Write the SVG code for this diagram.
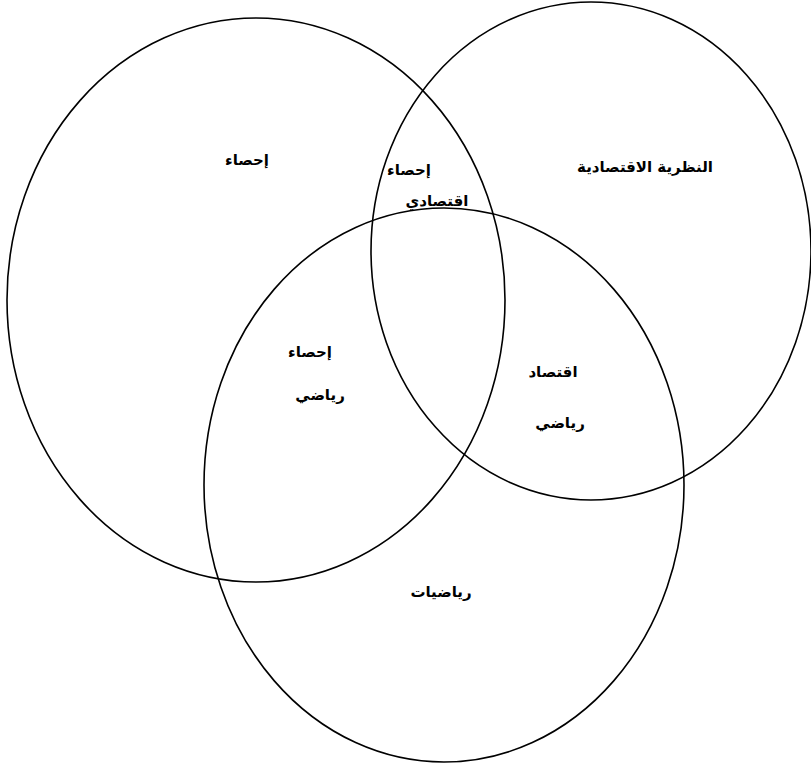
<svg xmlns="http://www.w3.org/2000/svg" width="811" height="767" viewBox="0 0 811 767">
<style>
.c{fill:none;stroke:#000;stroke-width:1.6}
.t{font-family:"DejaVu Sans","Noto Sans",sans-serif;font-size:15px;font-weight:bold;fill:#000;text-anchor:middle;direction:rtl}
</style>
<rect width="811" height="767" fill="#fff"/>
<g id="circle-stats"><ellipse class="c" cx="256" cy="300" rx="249" ry="282"/></g>
<g id="circle-econ"><ellipse class="c" cx="591" cy="251" rx="220" ry="249"/></g>
<g id="circle-math"><ellipse class="c" cx="444" cy="485" rx="240" ry="277"/></g>
<g id="labels">
<text class="t" x="247" y="165">إحصاء</text>
<text class="t" x="409" y="175">إحصاء</text>
<text class="t" x="437" y="206">اقتصادي</text>
<text class="t" x="645" y="172">النظرية الاقتصادية</text>
<text class="t" x="310" y="357">إحصاء</text>
<text class="t" x="320" y="400">رياضي</text>
<text class="t" x="553" y="377">اقتصاد</text>
<text class="t" x="560" y="428">رياضي</text>
<text class="t" x="441" y="597">رياضيات</text>
</g>
</svg>
